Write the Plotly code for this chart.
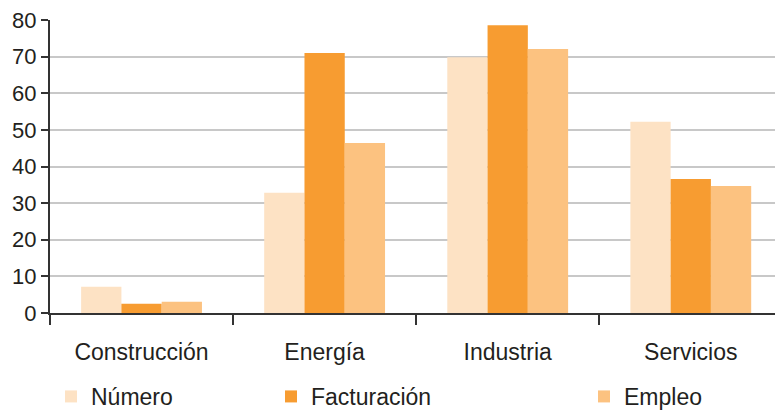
import plotly.graph_objects as go

# Sector categories and the three indicators per sector
sectores = ["Construcción", "Energía", "Industria", "Servicios"]
numero = [7.2, 32.8, 69.8, 52.2]
facturacion = [2.5, 71.0, 78.6, 36.6]
empleo = [3.1, 46.4, 72.1, 34.7]

y_ticks = [0, 10, 20, 30, 40, 50, 60, 70, 80]

TEXT = "#231f20"
FONT = "Helvetica Neue, Helvetica, Liberation Sans, Arial, sans-serif"

series = [
    ("Número", numero, "#fde2c4", "legend"),
    ("Facturación", facturacion, "#f79c31", "legend2"),
    ("Empleo", empleo, "#fcc280", "legend3"),
]

fig = go.Figure()
for name, vals, color, leg in series:
    fig.add_trace(go.Bar(
        x=sectores, y=vals, name=name,
        marker=dict(color=color, line=dict(width=0)),
        legend=leg, showlegend=True,
    ))

legend_common = dict(
    orientation="h", yanchor="middle", xanchor="left",
    xref="container", yref="container", y=0.033,
    font=dict(family=FONT, size=23, color=TEXT),
    bgcolor="rgba(0,0,0,0)", borderwidth=0,
)

fig.update_layout(
    width=775, height=410,
    margin=dict(l=50, r=0, t=20, b=97),
    paper_bgcolor="white", plot_bgcolor="white",
    showlegend=True,
    barmode="group", bargap=0.34, bargroupgap=0,
    font=dict(family=FONT, size=22, color=TEXT),
    legend=dict(x=51 / 775, **legend_common),
    legend2=dict(x=271 / 775, **legend_common),
    legend3=dict(x=584 / 775, **legend_common),
    xaxis=dict(
        range=[-0.5, 3.46],
        showgrid=False, zeroline=False,
        showline=True, linecolor="#333333", linewidth=2,
        ticks="outside", tickson="boundaries", ticklen=10, tickwidth=2,
        tickcolor="#333333",
        ticklabelstandoff=17,
        tickfont=dict(family=FONT, size=23, color=TEXT),
    ),
    yaxis=dict(
        range=[0, 80], tickvals=y_ticks,
        showgrid=True, gridcolor="#c8c8c8", gridwidth=1.5,
        zeroline=False,
        showline=True, linecolor="#333333", linewidth=2,
        ticks="outside", ticklen=7, tickwidth=2, tickcolor="#333333",
        tickfont=dict(family=FONT, size=22, color=TEXT),
    ),
)

fig.write_html("out.html")
